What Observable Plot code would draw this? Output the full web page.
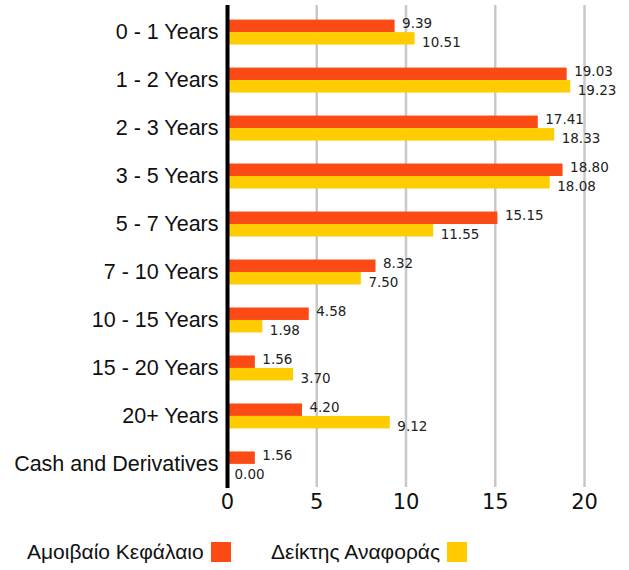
<!DOCTYPE html>
<html>
<head>
<meta charset="utf-8">
<script src="https://cdn.jsdelivr.net/npm/d3@7"></script>
<script src="https://cdn.jsdelivr.net/npm/@observablehq/plot@0.6"></script>
<style>
  body { margin: 0; background: #fff; }
  #chart { width: 629px; }
  .legend { position: relative; height: 50px; font-family: "Liberation Sans", Arial, sans-serif; font-size: 21px; color: #111; }
  .legend .item { position: absolute; top: 20px; display: flex; align-items: center; }
  .legend .sw { width: 20px; height: 20px; margin-left: 7px; display: inline-block; }
</style>
</head>
<body>
<div id="chart"></div>
<script>
const categories = ["0 - 1 Years", "1 - 2 Years", "2 - 3 Years", "3 - 5 Years", "5 - 7 Years", "7 - 10 Years", "10 - 15 Years", "15 - 20 Years", "20+ Years", "Cash and Derivatives"];
const seriesNames = ["Αμοιβαίο Κεφάλαιο", "Δείκτης Αναφοράς"];
const fundValues = [9.39, 19.03, 17.41, 18.80, 15.15, 8.32, 4.58, 1.56, 4.20, 1.56];
const indexValues = [10.51, 19.23, 18.33, 18.08, 11.55, 7.50, 1.98, 3.70, 9.12, 0.00];
const xTicks = [0, 5, 10, 15, 20];
const colors = ["#FC4A14", "#FFCC00"];

const fund = categories.map((c, i) => ({category: c, value: fundValues[i]}));
const index = categories.map((c, i) => ({category: c, value: indexValues[i]}));

const chart = Plot.plot({
  width: 629,
  height: 520,
  marginLeft: 227,
  marginRight: 45,
  marginTop: 10,
  marginBottom: 34,
  style: {fontFamily: "Liberation Sans, Arial, sans-serif", color: "#111"},
  x: {domain: [0, 20], ticks: xTicks, label: null},
  y: {domain: categories, paddingInner: 0.48, paddingOuter: 0.2, round: false, label: null},
  marks: [
    Plot.ruleX(xTicks.filter(d => d > 0), {stroke: "#c8c8c8", strokeWidth: 2.5, insetTop: -5, insetBottom: -1}),
    Plot.barX(fund, {x: "value", y: "category", fill: colors[0], insetBottom: 12.5}),
    Plot.barX(index, {x: "value", y: "category", fill: colors[1], insetTop: 12.5}),
    Plot.text(fund, {x: "value", y: "category", text: d => d.value.toFixed(2), dx: 7, dy: -8.5, textAnchor: "start", fontSize: 13.5, fill: "#222", fontFamily: "DejaVu Sans, Verdana, sans-serif"}),
    Plot.text(index, {x: "value", y: "category", text: d => d.value.toFixed(2), dx: 7, dy: 10.5, textAnchor: "start", fontSize: 13.5, fill: "#222", fontFamily: "DejaVu Sans, Verdana, sans-serif"}),
    Plot.ruleX([0], {stroke: "#000", strokeWidth: 4, insetTop: -5, insetBottom: -2}),
    Plot.axisY({tickSize: 0, tickPadding: 9, fontSize: 21.5, label: null}),
    Plot.axisX({ticks: xTicks, tickSize: 0, tickPadding: 8, fontSize: 21, label: null, fontFamily: "DejaVu Sans, Verdana, sans-serif"})
  ]
});
chart.style.overflow = "visible";
document.getElementById("chart").appendChild(chart);

const legend = document.createElement("div");
legend.className = "legend";
const lefts = [27, 271];
seriesNames.forEach((name, i) => {
  const item = document.createElement("div");
  item.className = "item";
  item.style.left = lefts[i] + "px";
  const t = document.createElement("span");
  t.textContent = name;
  const sw = document.createElement("span");
  sw.className = "sw";
  sw.style.background = colors[i];
  item.appendChild(t);
  item.appendChild(sw);
  legend.appendChild(item);
});
document.getElementById("chart").appendChild(legend);
</script>
</body>
</html>
